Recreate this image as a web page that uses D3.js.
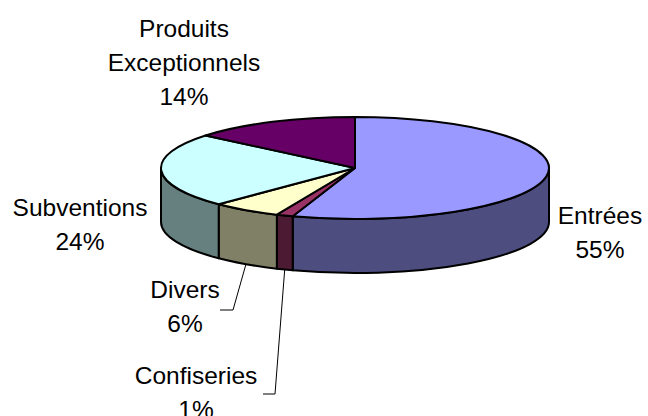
<!DOCTYPE html>
<html>
<head>
<meta charset="utf-8">
<script src="https://cdn.jsdelivr.net/npm/d3@7"></script>
<style>
  body { margin: 0; background: #fff; }
  text { font-family: "Liberation Sans", Arial, sans-serif; font-size: 24.5px; fill: #000; }
</style>
</head>
<body>
<svg id="chart" width="648" height="416"></svg>
<script>
// --- data ---
const categories = ['Entrées', 'Confiseries', 'Divers', 'Subventions', 'Produits Exceptionnels'];
const values = [55.2, 1.4, 5.8, 23.6, 14.0];
const percentLabels = ['55%', '1%', '6%', '24%', '14%'];
const topColors = ['#9999FF', '#993366', '#FFFFCC', '#CCFFFF', '#660066'];
const sideColors = ['#4D4D80', '#4D1A33', '#808066', '#668080', '#330033'];

// label layout (text lines, anchor, leader bend)
const labelLayout = {
  'Entrées': { lines: ['Entrées'], x: 600, y: 224 },
  'Confiseries': { lines: ['Confiseries'], x: 196, y: 384, bend: [275, 394, 263] },
  'Divers': { lines: ['Divers'], x: 185, y: 298, bend: [233, 310, 220] },
  'Subventions': { lines: ['Subventions'], x: 80, y: 216 },
  'Produits Exceptionnels': { lines: ['Produits', 'Exceptionnels'], x: 184, y: 37 }
};

const svg = d3.select('#chart');
const cx = 355, cy = 168, rx = 194, ry = 51, depth = 54;
const lineGap = 34;

const pt = (a, dy = 0) => [cx + rx * Math.sin(a), cy - ry * Math.cos(a) + dy];

const data = categories.map((c, i) => ({
  name: c, value: values[i], pct: percentLabels[i], top: topColors[i], side: sideColors[i]
}));
const arcs = d3.pie().sort(null).value(d => d.value)(data);

// side walls (front half only)
const g = svg.append('g');
arcs.forEach(a => {
  const a0 = Math.max(a.startAngle, Math.PI / 2);
  const a1 = Math.min(a.endAngle, 3 * Math.PI / 2);
  if (a1 <= a0) return;
  const p0 = pt(a0), p1 = pt(a1), q1 = pt(a1, depth), q0 = pt(a0, depth);
  const path = `M${p0}A${rx},${ry} 0 0 1 ${p1}L${q1}A${rx},${ry} 0 0 0 ${q0}Z`;
  g.append('path')
    .attr('d', path)
    .attr('fill', a.data.side)
    .attr('stroke', '#000')
    .attr('stroke-width', 2)
    .attr('stroke-linejoin', 'round');
});

// top faces
arcs.forEach(a => {
  const p0 = pt(a.startAngle), p1 = pt(a.endAngle);
  const large = a.endAngle - a.startAngle > Math.PI ? 1 : 0;
  const path = `M${cx},${cy}L${p0}A${rx},${ry} 0 ${large} 1 ${p1}Z`;
  g.append('path')
    .attr('d', path)
    .attr('fill', a.data.top)
    .attr('stroke', '#000')
    .attr('stroke-width', 2)
    .attr('stroke-linejoin', 'round');
});

// labels + leader lines
arcs.forEach(a => {
  const lay = labelLayout[a.data.name];
  const lines = lay.lines.concat([a.data.pct]);
  const t = svg.append('text').attr('text-anchor', 'middle');
  lines.forEach((l, i) => {
    t.append('tspan').attr('x', lay.x).attr('y', lay.y + i * lineGap).text(l);
  });
  if (lay.bend) {
    const mid = (a.startAngle + a.endAngle) / 2;
    const s = pt(mid, depth);
    svg.append('polyline')
      .attr('points', `${s} ${lay.bend[0]},${lay.bend[1]} ${lay.bend[2]},${lay.bend[1]}`)
      .attr('fill', 'none')
      .attr('stroke', '#000')
      .attr('stroke-width', 1);
  }
});
</script>
</body>
</html>
